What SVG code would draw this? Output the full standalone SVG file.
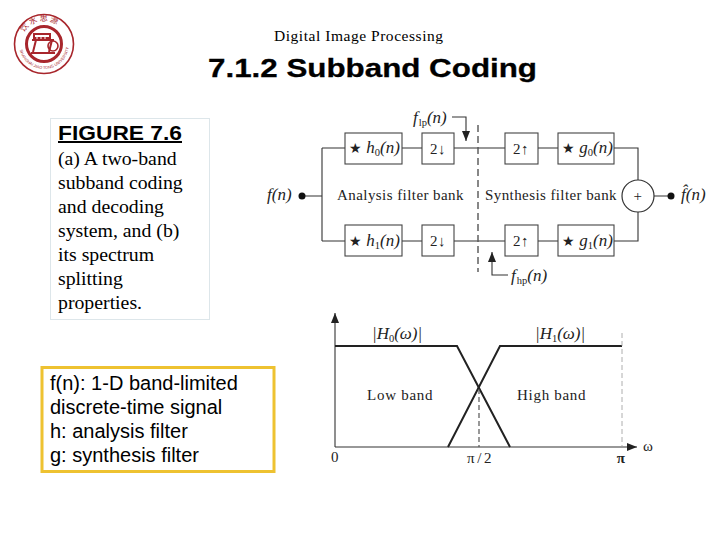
<svg xmlns="http://www.w3.org/2000/svg" width="720" height="540" viewBox="0 0 720 540">
<style>
.ser{font-family:"Liberation Serif","Times New Roman",serif;fill:#000}
.san{font-family:"Liberation Sans",Arial,sans-serif;fill:#000}
.cap{font-size:19.8px}
.key{font-size:20px}
.lab{font-family:"Liberation Serif",serif;font-size:15px;fill:#222;letter-spacing:.45px}
.mth{font-family:"Liberation Serif",serif;font-size:17px;font-style:italic;fill:#222}
.sub{font-size:10.5px;font-style:normal}
.star{font-style:normal;font-size:14px}
.box{fill:#fff;stroke:#444;stroke-width:1.1}
.ln{fill:none;stroke:#333;stroke-width:1.1}
.thick{fill:none;stroke:#222;stroke-width:2}
.logo{fill:none;stroke:#a8262c}
</style>
<defs>
<marker id="ah" markerWidth="10" markerHeight="12" refX="10" refY="4" orient="auto" markerUnits="userSpaceOnUse"><path d="M0 0L10 4L0 8Z" fill="#222"/></marker>
<path id="ring" d="M21 44A23 23 0 1 1 67 44"/>
<path id="ringb" d="M19 44A25 25 0 0 0 69 44"/>
</defs>
<rect width="720" height="540" fill="#fff"/>

<g id="logo">
<circle class="logo" cx="44" cy="44" r="29.5" stroke-width="1.6"/>
<circle class="logo" cx="44" cy="44" r="17.5" stroke-width="3"/>
<text font-family="'Noto Sans CJK SC',sans-serif" font-size="8" fill="#a8262c"><textPath href="#ring" startOffset="12">饮 水 思 源</textPath></text>
<text font-family="'Liberation Sans',sans-serif" font-size="4" fill="#a8262c"><textPath href="#ringb" startOffset="6">SHANGHAI JIAO TONG UNIVERSITY</textPath></text>
<path d="M34 34H50V38H34ZM32 40H54M36 40L33 52M52 40L49 52M31 53H55" fill="none" stroke="#a8262c" stroke-width="2"/>
<path d="M37 35V39M41 35V39M45 35V39" stroke="#fff" stroke-width="1"/>
<circle class="logo" cx="53" cy="46" r="5" stroke-width="1.6"/>
</g>

<g id="header">
<text class="ser" x="274" y="41" font-size="15.500" textLength="169" lengthAdjust="spacing">Digital Image Processing</text>
<text class="san" x="208" y="77" font-size="26" font-weight="700" stroke="#000" stroke-width=".3" textLength="329" lengthAdjust="spacingAndGlyphs">7.1.2 Subband Coding</text>
</g>

<g id="caption">
<rect x="50.500" y="118.500" width="159" height="201" fill="#fff" stroke="#dde6ea"/>
<text class="san" x="58" y="140" font-size="20" font-weight="700" text-decoration="underline" textLength="124" lengthAdjust="spacingAndGlyphs">FIGURE 7.6</text>
<text class="ser cap" x="58" y="165">(a) A two-band</text>
<text class="ser cap" x="58" y="189">subband coding</text>
<text class="ser cap" x="58" y="213">and decoding</text>
<text class="ser cap" x="58" y="237">system, and (b)</text>
<text class="ser cap" x="58" y="261">its spectrum</text>
<text class="ser cap" x="58" y="285">splitting</text>
<text class="ser cap" x="58" y="309">properties.</text>
</g>

<g id="legend">
<rect x="42" y="367.500" width="232" height="104" fill="#fff" stroke="#eec231" stroke-width="3"/>
<text class="san key" x="50" y="390">f(n): 1-D band-limited</text>
<text class="san key" x="50" y="414">discrete-time signal</text>
<text class="san key" x="50" y="438">h: analysis filter</text>
<text class="san key" x="50" y="462">g: synthesis filter</text>
</g>

<g id="connectors">
<path class="ln" d="M302 196H322M322 148V241M322 148H345M322 241H345M402 148H422M402 241H422M454 148H505M454 241H505M538 148H558M538 241H558M614 148H638V180M614 241H638V212M654 196H671"/>
<path d="M478 125V272" fill="none" stroke="#555" stroke-width="1.4" stroke-dasharray="7 4"/>
<path class="ln" d="M452 117H466V141" marker-end="url(#ah)"/>
<path class="ln" d="M508 275H492V252" marker-end="url(#ah)"/>
<circle cx="302" cy="196" r="3.500" fill="#111"/>
<circle cx="671" cy="196" r="3.500" fill="#111"/>
</g>

<g id="h0"><rect class="box" x="345" y="133" width="57" height="31"/><text class="mth" x="349" y="153"><tspan class="star">★</tspan> h<tspan class="sub" dy="3">0</tspan><tspan dy="-3">(n)</tspan></text></g>
<g id="h1"><rect class="box" x="345" y="225" width="57" height="31"/><text class="mth" x="349" y="246"><tspan class="star">★</tspan> h<tspan class="sub" dy="3">1</tspan><tspan dy="-3">(n)</tspan></text></g>
<g id="down0"><rect class="box" x="422" y="133" width="32" height="31"/><text class="lab" x="438" y="154" text-anchor="middle">2↓</text></g>
<g id="down1"><rect class="box" x="422" y="225" width="32" height="31"/><text class="lab" x="438" y="246" text-anchor="middle">2↓</text></g>
<g id="up0"><rect class="box" x="505" y="133" width="33" height="31"/><text class="lab" x="521" y="154" text-anchor="middle">2↑</text></g>
<g id="up1"><rect class="box" x="505" y="225" width="33" height="31"/><text class="lab" x="521" y="246" text-anchor="middle">2↑</text></g>
<g id="g0"><rect class="box" x="558" y="133" width="56" height="31"/><text class="mth" x="562" y="153"><tspan class="star">★</tspan> g<tspan class="sub" dy="3">0</tspan><tspan dy="-3">(n)</tspan></text></g>
<g id="g1"><rect class="box" x="558" y="225" width="56" height="31"/><text class="mth" x="562" y="246"><tspan class="star">★</tspan> g<tspan class="sub" dy="3">1</tspan><tspan dy="-3">(n)</tspan></text></g>
<g id="sum"><circle cx="638" cy="196" r="16" fill="#fff" stroke="#333" stroke-width="1.2"/><text class="lab" x="638" y="201" text-anchor="middle">+</text></g>

<g id="signal-labels">
<text class="mth" x="267" y="200">f(n)</text>
<text class="mth" x="681" y="200">f̂(n)</text>
<text class="mth" x="413" y="123">f<tspan class="sub" dx="1" dy="3">lp</tspan><tspan dy="-3">(n)</tspan></text>
<text class="mth" x="511" y="281">f<tspan class="sub" dx="1" dy="3">hp</tspan><tspan dy="-3">(n)</tspan></text>
<text class="lab" x="337" y="200" textLength="127">Analysis filter bank</text>
<text class="lab" x="485" y="200" textLength="132">Synthesis filter bank</text>
</g>

<g id="spectrum">
<path class="ln" d="M335 447V313" stroke-width="1.4" marker-end="url(#ah)"/>
<path class="ln" d="M335 447H637" stroke-width="1.4" marker-end="url(#ah)"/>
<path class="thick" d="M335 346H457L510 447"/>
<path class="thick" d="M448 447L500 346H622"/>
<path d="M479 389V447" stroke="#555" stroke-width="1.2" stroke-dasharray="5 3" fill="none"/>
<path d="M622 333V447" stroke="#999" stroke-width=".8" stroke-dasharray="5 3" fill="none"/>
<text class="mth" x="372" y="339">|H<tspan class="sub" dy="3">0</tspan><tspan dy="-3">(ω)|</tspan></text>
<text class="mth" x="535" y="339">|H<tspan class="sub" dy="3">1</tspan><tspan dy="-3">(ω)|</tspan></text>
<text class="lab" x="367" y="400" textLength="66">Low band</text>
<text class="lab" x="517" y="400" textLength="69">High band</text>
<text class="lab" x="335" y="462" text-anchor="middle">0</text>
<text class="lab" x="467" y="463" textLength="25">π/2</text>
<text class="lab" x="621" y="463" text-anchor="middle" font-weight="700">π</text>
<text class="lab" x="643" y="451">ω</text>
</g>
</svg>
